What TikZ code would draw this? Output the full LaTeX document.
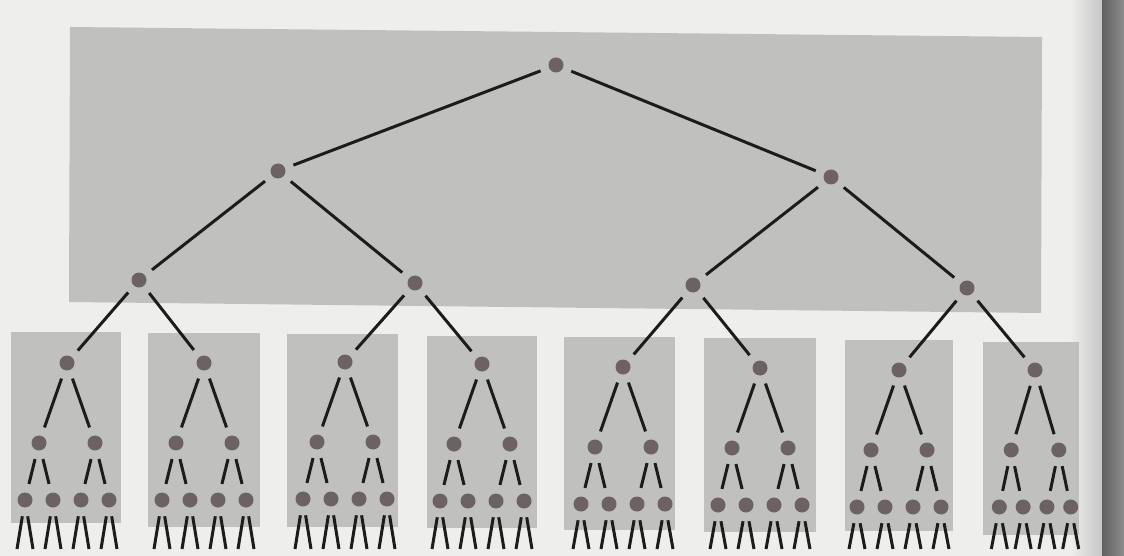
\documentclass[tikz,border=0pt]{standalone}
\usepackage{tikz}
\usetikzlibrary{calc}
\usetikzlibrary{positioning}
\definecolor{paper}{RGB}{238,238,236}
\definecolor{panelgray}{RGB}{192,192,190}
\definecolor{dotgray}{RGB}{108,98,98}
\definecolor{inkline}{RGB}{28,28,28}
\tikzset{panel/.style={fill=panelgray}}
\tikzset{dot/.style={circle, fill=dotgray, inner sep=0pt, minimum size=15pt, outer sep=9pt}}
\tikzset{edge/.style={draw=inkline, line width=3pt}}
\begin{document}
\begin{tikzpicture}[x=1pt,y=-1pt]

    \useasboundingbox (0,0) rectangle (1124,556);
    \fill [paper] (0,0) rectangle (1124,556);

    % Page fold on the right
    \shade [left color=paper, right color=black!22] (1070,0) rectangle (1102,556);
    \shade [left color=black!62, right color=black!45] (1102,0) rectangle (1124,556);

    % Top panel
    \fill [panel] (70,27) -- (1042,37) -- (1041,313) -- (69,302) -- cycle;

    % Lower panels with their subtrees
    \foreach \i/\cx/\cy/\sx/\rl/\rr/\rt/\rb in {
        1/67/363/1/11/121/332/523,
        2/204/363/1/148/260/333/527,
        3/345/362/1/287/398/334/527,
        4/482/364/1/427/537/336/528,
        5/623/367/1/564/675/337/530,
        6/760/368/1/704/816/338/532,
        7/899/370/1/845/953/340/531,
        8/1035/370/0.85/983/1079/342/535} {
        \fill [panel] (\rl,\rt) rectangle (\rr,\rb);
        \node [dot] (sub\i) at (\cx,\cy) {};
        \node [dot] (sub\i-a) at ({\cx-28*\sx},{\cy+80}) {};
        \node [dot] (sub\i-b) at ({\cx+28*\sx},{\cy+80}) {};
        \draw [edge] (sub\i) -- (sub\i-a);
        \draw [edge] (sub\i) -- (sub\i-b);
        \foreach \leaf/\up/\dx in {aa/a/-42, ab/a/-14, ba/b/14, bb/b/42} {
            \node [dot] (sub\i-\leaf) at ({\cx+\dx*\sx},{\cy+137}) {};
            \coordinate (sub\i-\leaf-l) at ({\cx+\dx*\sx-8},549);
            \coordinate (sub\i-\leaf-r) at ({\cx+\dx*\sx+8},549);
            \draw [edge] (sub\i-\up) -- (sub\i-\leaf);
            \draw [edge] (sub\i-\leaf) -- (sub\i-\leaf-l);
            \draw [edge] (sub\i-\leaf) -- (sub\i-\leaf-r);
        }
    }

    % Nodes
    \node [dot] (root) at (556,65) {};
    \node [dot] (mid1) at (278,171) {};
    \node [dot] (mid2) at (831,177) {};
    \node [dot] (low1) at (139,280) {};
    \node [dot] (low2) at (415,283) {};
    \node [dot] (low3) at (693,285) {};
    \node [dot] (low4) at (967,288) {};

    % Edges between nodes
    \draw [edge] (root) -- (mid1);
    \draw [edge] (root) -- (mid2);
    \draw [edge] (mid1) -- (low1);
    \draw [edge] (mid1) -- (low2);
    \draw [edge] (mid2) -- (low3);
    \draw [edge] (mid2) -- (low4);
    \draw [edge] (low1) -- (sub1);
    \draw [edge] (low1) -- (sub2);
    \draw [edge] (low2) -- (sub3);
    \draw [edge] (low2) -- (sub4);
    \draw [edge] (low3) -- (sub5);
    \draw [edge] (low3) -- (sub6);
    \draw [edge] (low4) -- (sub7);
    \draw [edge] (low4) -- (sub8);

\end{tikzpicture}
\end{document}
